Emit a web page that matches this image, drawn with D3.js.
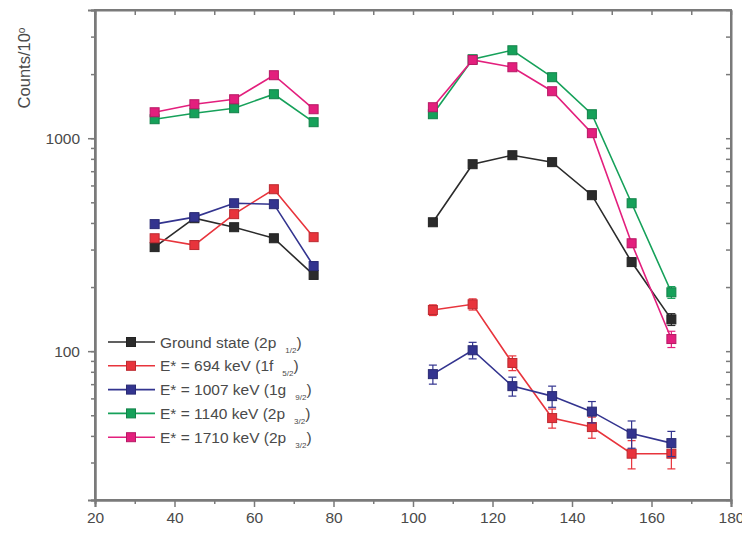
<!DOCTYPE html>
<html><head><meta charset="utf-8">
<script src="https://cdn.jsdelivr.net/npm/d3@7/dist/d3.min.js"></script>
<style>body{margin:0;background:#fff}svg{display:block}text{font-family:"Liberation Sans",Arial,sans-serif}</style>
</head><body><svg id="c" width="742" height="533"></svg>
<script>
const anglesFwd = [35, 45, 55, 65, 75];
const anglesBwd = [105, 115, 125, 135, 145, 155, 165];
const seriesNames = ["Ground state (2p", "E* = 694 keV (1f", "E* = 1007 keV (1g", "E* = 1140 keV (2p", "E* = 1710 keV (2p"];
const seriesSubs = ["1/2", "5/2", "9/2", "3/2", "3/2"];
const seriesColors = ["#2b2b2b", "#e8343c", "#33348f", "#16a15a", "#e31f7d"];
const groundFwd = [308, 421, 382, 339, 228];
const groundBwd = [403, 755, 832, 772, 540, 262, 141];
const e694Fwd = [339, 315, 440, 576, 343];
const e694Bwd = [156, 166, 88, 48.5, 44, 33, 33];
const e1007Fwd = [395, 426, 495, 490, 251];
const e1007Bwd = [78, 101, 68.5, 61.5, 52, 41, 37];
const e1140Fwd = [1228, 1310, 1383, 1609, 1189];
const e1140Bwd = [1296, 2349, 2588, 1934, 1296, 495, 189];
const e1710Fwd = [1324, 1444, 1524, 1976, 1368];
const e1710Bwd = [1398, 2330, 2154, 1662, 1056, 321, 114];
const groundErrFwd = [8, 10, 10, 9, 8];
const groundErrBwd = [10, 14, 15, 14, 12, 8, 9];
const e694ErrFwd = [9, 9, 11, 12, 9];
const e694ErrBwd = [9, 10, 7, 5, 5, 5, 5];
const e1007ErrFwd = [10, 10, 11, 11, 8];
const e1007ErrBwd = [8, 9, 7, 7, 6, 6, 5];
const e1140ErrFwd = [18, 18, 19, 20, 18];
const e1140ErrBwd = [18, 25, 26, 22, 18, 12, 12];
const e1710ErrFwd = [18, 19, 20, 22, 19];
const e1710ErrBwd = [19, 25, 24, 21, 17, 14, 10];
const xTicks = [20, 40, 60, 80, 100, 120, 140, 160, 180];
const yTickLabels = [100, 1000];

const valsFwd = [groundFwd, e694Fwd, e1007Fwd, e1140Fwd, e1710Fwd];
const valsBwd = [groundBwd, e694Bwd, e1007Bwd, e1140Bwd, e1710Bwd];
const errFwd = [groundErrFwd, e694ErrFwd, e1007ErrFwd, e1140ErrFwd, e1710ErrFwd];
const errBwd = [groundErrBwd, e694ErrBwd, e1007ErrBwd, e1140ErrBwd, e1710ErrBwd];

const svg = d3.select("#c");
const L = 95, R = 731, T = 10, B = 500;
const x = d3.scaleLinear().domain([20, 180]).range([L, R]);
const y = d3.scaleLog().domain([20, 4000]).range([B, T]);
const axisCol = "#7a7a7a", textCol = "#4a4a4a";

const yMinor = [];
[10, 100, 1000].forEach(d => { for (let k = 1; k <= 9; k++) { const v = d * k; if (v >= 20 && v <= 4000) yMinor.push(v); } });

const gx = svg.append("g").attr("transform", `translate(0,${B})`)
  .call(d3.axisBottom(x).tickValues(xTicks).tickSize(7).tickPadding(5).tickFormat(d3.format("d")));
const gxm = svg.append("g").attr("transform", `translate(0,${B})`)
  .call(d3.axisBottom(x).tickValues(d3.range(30, 180, 20)).tickSize(4).tickFormat(""));
const gxt = svg.append("g").attr("transform", `translate(0,${T})`)
  .call(d3.axisBottom(x).tickValues(d3.range(20, 181, 10)).tickSizeInner(5).tickSizeOuter(0).tickFormat(""));
const gy = svg.append("g").attr("transform", `translate(${L},0)`)
  .call(d3.axisLeft(y).tickValues(yMinor).tickSize(4).tickFormat(""));
const gy2 = svg.append("g").attr("transform", `translate(${L},0)`)
  .call(d3.axisLeft(y).tickValues(yTickLabels).tickSize(7).tickPadding(8).tickFormat(d3.format("d")));
const gyr = svg.append("g").attr("transform", `translate(${R},0)`)
  .call(d3.axisLeft(y).tickValues(yMinor).tickSizeInner(5).tickSizeOuter(0).tickFormat(""));
[gx, gxm, gxt, gy, gy2, gyr].forEach(g => {
  g.select(".domain").attr("stroke", axisCol).attr("stroke-width", 2);
  g.selectAll(".tick line").attr("stroke", axisCol).attr("stroke-width", 1.5);
  g.selectAll(".tick text").attr("fill", textCol).attr("font-size", 15.5).attr("font-family", "Liberation Sans, Arial, sans-serif");
});
svg.append("rect").attr("x", L).attr("y", T).attr("width", R - L).attr("height", B - T)
  .attr("fill", "none").attr("stroke", axisCol).attr("stroke-width", 2);

svg.append("text").attr("transform", `translate(30,68) rotate(-90)`).attr("text-anchor", "middle")
  .attr("fill", textCol).attr("font-size", 16.5)
  .text("Counts/10").append("tspan").attr("baseline-shift", "super").attr("font-size", 10).text("o");

const line = d3.line().x(d => x(d[0])).y(d => y(d[1]));
const ms = 9;
function drawGroup(angles, vals, errs, color) {
  const g = svg.append("g");
  const pts = angles.map((a, i) => [a, vals[i], errs[i]]);
  g.append("path").attr("d", line(pts)).attr("fill", "none").attr("stroke", color).attr("stroke-width", 1.6);
  pts.forEach(p => {
    const cx = x(p[0]);
    g.append("line").attr("x1", cx).attr("x2", cx).attr("y1", y(p[1] + p[2])).attr("y2", y(p[1] - p[2]))
      .attr("stroke", color).attr("stroke-width", 1.2);
    [p[1] + p[2], p[1] - p[2]].forEach(v => g.append("line").attr("x1", cx - 4).attr("x2", cx + 4)
      .attr("y1", y(v)).attr("y2", y(v)).attr("stroke", color).attr("stroke-width", 1.2));
    g.append("rect").attr("x", cx - ms / 2).attr("y", y(p[1]) - ms / 2).attr("width", ms).attr("height", ms)
      .attr("fill", color).attr("stroke", d3.color(color).darker(0.6)).attr("stroke-width", 1);
  });
}
seriesColors.forEach((c, i) => {
  drawGroup(anglesFwd, valsFwd[i], errFwd[i], c);
  drawGroup(anglesBwd, valsBwd[i], errBwd[i], c);
});

const lg = svg.append("g");
seriesNames.forEach((name, i) => {
  const ly = 342 + i * 23.8;
  const c = seriesColors[i];
  lg.append("line").attr("x1", 108).attr("x2", 155).attr("y1", ly).attr("y2", ly).attr("stroke", c).attr("stroke-width", 1.6);
  lg.append("rect").attr("x", 131 - ms / 2).attr("y", ly - ms / 2).attr("width", ms).attr("height", ms)
    .attr("fill", c).attr("stroke", d3.color(c).darker(0.6)).attr("stroke-width", 1);
  const t = lg.append("text").attr("x", 160).attr("y", ly + 5.5).attr("fill", textCol).attr("font-size", 15.5).text(name);
  t.append("tspan").attr("font-size", 8).attr("dx", 9).attr("dy", 5).text(seriesSubs[i]);
  t.append("tspan").attr("dy", -5).text(")");
});
</script></body></html>
